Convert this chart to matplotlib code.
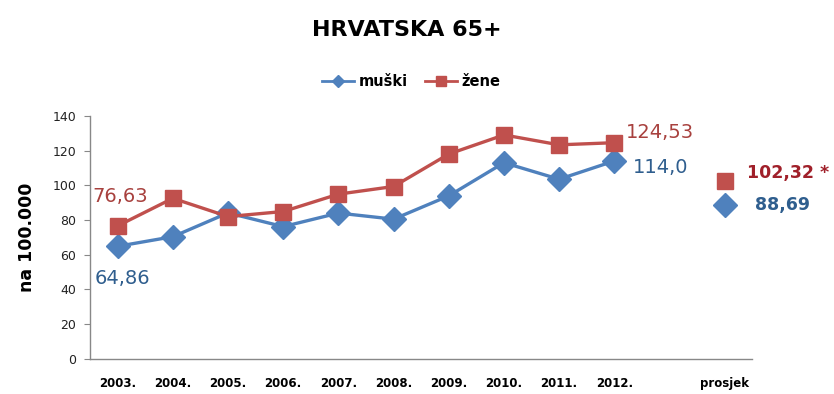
import matplotlib
matplotlib.use("Agg")
import matplotlib.pyplot as plt
from matplotlib.lines import Line2D

years = ["2003.", "2004.", "2005.", "2006.", "2007.", "2008.", "2009.", "2010.", "2011.", "2012."]
muski = [64.86, 70.4, 84.1, 76.2, 84.0, 80.5, 93.9, 113.0, 103.5, 114.0]
zene = [76.63, 92.5, 82.0, 84.9, 94.9, 99.3, 118.0, 129.0, 123.3, 124.53]
avg_label = "prosjek"
muski_avg = 88.69
zene_avg = 102.32
yticks = [0, 20, 40, 60, 80, 100, 120, 140]

blue = "#4F81BD"
red = "#C0504D"
blue_txt = "#2F5E8E"
red_txt = "#A8413E"

fig = plt.figure(figsize=(8.34, 3.94), dpi=100)
ax = fig.add_axes([0.108, 0.089, 0.794, 0.617])

x = list(range(len(years)))
xa = len(years) + 1

ax.plot(x, muski, color=blue, lw=2.4, marker="D", ms=12.5, mec=blue, zorder=3)
ax.plot(x, zene, color=red, lw=2.4, marker="s", ms=11, mec=red, zorder=3)
ax.plot([xa], [zene_avg], ls="none", marker="s", ms=11, color=red, zorder=3)
ax.plot([xa], [muski_avg], ls="none", marker="D", ms=12.5, color=blue, zorder=3)

ax.set_xlim(-0.5, xa + 0.5)
ax.set_ylim(0, 140)
ax.set_yticks(yticks)
ax.set_xticks(x + [xa])
ax.set_xticklabels(years + [avg_label], fontsize=8.5, fontweight="bold")
ax.tick_params(axis="x", length=0, pad=13)
ax.tick_params(axis="y", length=4, color="#888888", labelsize=9, pad=6, labelcolor="#222222")
for s in ["top", "right"]:
    ax.spines[s].set_visible(False)
ax.spines["left"].set_color("#888888")
ax.spines["bottom"].set_color("#888888")
ax.spines["left"].set_linewidth(1.0)
ax.spines["bottom"].set_linewidth(1.0)

ax.set_ylabel("na 100.000", fontsize=12.5, fontweight="bold", labelpad=12)

fs = 14
fsb = 12.5
ax.annotate(f"{zene[0]:.2f}".replace(".", ","), (x[0], zene[0]), xytext=(-18, 21),
            textcoords="offset points", color=red_txt, fontsize=fs, ha="left", va="center")
ax.annotate(f"{muski[0]:.2f}".replace(".", ","), (x[0], muski[0]), xytext=(-16.5, -23.5),
            textcoords="offset points", color=blue_txt, fontsize=fs, ha="left", va="center")
ax.annotate(f"{zene[-1]:.2f}".replace(".", ","), (x[-1], zene[-1]), xytext=(8.6, 7.7),
            textcoords="offset points", color=red_txt, fontsize=fs, ha="left", va="center")
ax.annotate(f"{muski[-1]:.1f}".replace(".", ","), (x[-1], muski[-1]), xytext=(13.7, -5),
            textcoords="offset points", color=blue_txt, fontsize=fs, ha="left", va="center")
ax.annotate(f"{zene_avg:.2f}".replace(".", ",") + " *", (xa, zene_avg), xytext=(15.8, 6),
            textcoords="offset points", color="#A0202A", fontsize=fsb, fontweight="bold",
            ha="left", va="center", annotation_clip=False)
ax.annotate(f"{muski_avg:.2f}".replace(".", ","), (xa, muski_avg), xytext=(22, 0),
            textcoords="offset points", color=blue_txt, fontsize=fsb, fontweight="bold",
            ha="left", va="center", annotation_clip=False)

fig.text(0.488, 0.925, "HRVATSKA 65+", ha="center", va="center", fontsize=16, fontweight="bold")

handles = [Line2D([], [], color=blue, lw=2, marker="D", ms=6),
           Line2D([], [], color=red, lw=2, marker="s", ms=7)]
fig.legend(handles, ["muški", "žene"], loc="center", bbox_to_anchor=(0.493, 0.794), ncol=2,
           frameon=False, prop={"weight": "bold", "size": 10.5},
           handlelength=2.2, handletextpad=0.3, columnspacing=1.2)

fig.savefig("out.png", dpi=100)
